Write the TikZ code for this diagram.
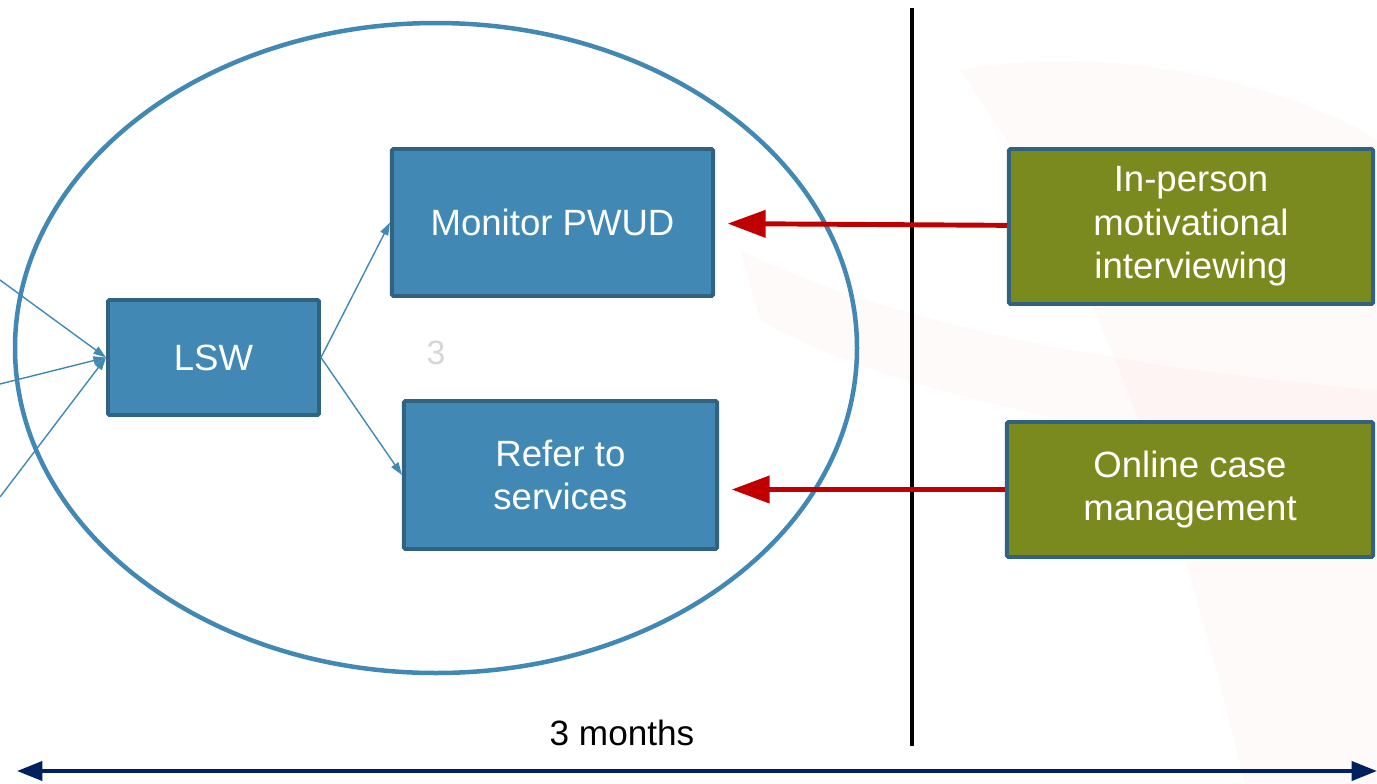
\documentclass[tikz,border=0pt]{standalone}
\usepackage{fontspec}
\setmainfont{Liberation Sans}
\usepackage{xcolor}
\usepackage{tikz}
\usetikzlibrary{arrows.meta, positioning}

\definecolor{lswblue}{RGB}{65,137,180}
\definecolor{lswedge}{RGB}{49,98,128}
\definecolor{mioli}{RGB}{123,138,31}
\definecolor{pushred}{RGB}{192,0,0}
\definecolor{spannavy}{RGB}{0,32,96}

\begin{document}
\begin{tikzpicture}[x=0.025cm,y=-0.025cm,
        task/.style={draw=lswedge,fill=lswblue,line width=2.8pt,rounded corners=1pt,
          text=white,align=center,inner sep=0pt,font=\fontsize{26}{31}\selectfont},
        method/.style={task,fill=mioli},
        flow/.style={draw=lswblue,line width=1pt,-{Triangle[length=9pt,width=6pt]}},
        push/.style={draw=pushred,line width=3.5pt,-{Triangle[length=27pt,width=19pt]},shorten >=9pt},
        span/.style={draw=spannavy,line width=2.8pt,{Triangle[length=18pt,width=13.5pt]}-{Triangle[length=18pt,width=13.5pt]}},
        swoosh/.style={fill=red!60,opacity=0.035}]
    \useasboundingbox (0,0) rectangle (1377,784);

      % faint background mark
      \fill[swoosh] (960,70) .. controls (1120,40) and (1300,90) .. (1377,140) -- (1377,784) -- (1245,784)
                    .. controls (1190,560) and (1120,300) .. (960,70) -- cycle;
      \fill[swoosh] (740,250) .. controls (900,330) and (1150,370) .. (1377,390) -- (1377,470)
                    .. controls (1150,440) and (900,400) .. (760,320) -- cycle;

      \draw[lswblue,line width=3.2pt] (436,348) ellipse [x radius=421, y radius=325];

      \node[task,minimum width=5.275cm,minimum height=2.875cm]  (lsw)     at (213.5,357.5) {LSW};
      \node[task,minimum width=8.025cm,minimum height=3.675cm]  (monitor) at (552.5,222.5) {Monitor PWUD};
      \node[task,minimum width=7.825cm,minimum height=3.7cm]    (refer)   at (560.5,475)   {Refer to\\services};
      \node[method,minimum width=9.1cm,minimum height=3.875cm]  (inperson) at (1191,226.5) {In-person\\motivational\\interviewing};
      \node[method,minimum width=9.15cm,minimum height=3.375cm] (online)   at (1190,489.5) {Online case\\management};

      \node[text=black!16,font=\fontsize{24}{28}\selectfont] (num3) at (436,353) {3};

      \foreach \y [count=\i] in {280,384,497}
        \coordinate (src\i) at (0,\y);
      \foreach \i in {1,2,3}
        \draw[flow] (src\i) -- (lsw.west);
      \draw[flow] (lsw.east) -- (monitor.west);
      \draw[flow] (lsw.east) -- (refer.west);

      \coordinate (cut top) at (912,8);
      \coordinate (cut bottom) at (912,746);
      \draw[black,line width=3pt] (cut top) -- (cut bottom);

      \draw[push] (inperson) -- (monitor);
      \draw[push] (online.west) -- (online.west -| refer.east);

      \coordinate (span start) at (17,771);
      \coordinate (span end) at (1377,771);
      \draw[span] (span start) -- (span end);
      \node[font=\fontsize{25}{30}\selectfont] (months) at (622,733) {3 months};
    \end{tikzpicture}
\end{document}
